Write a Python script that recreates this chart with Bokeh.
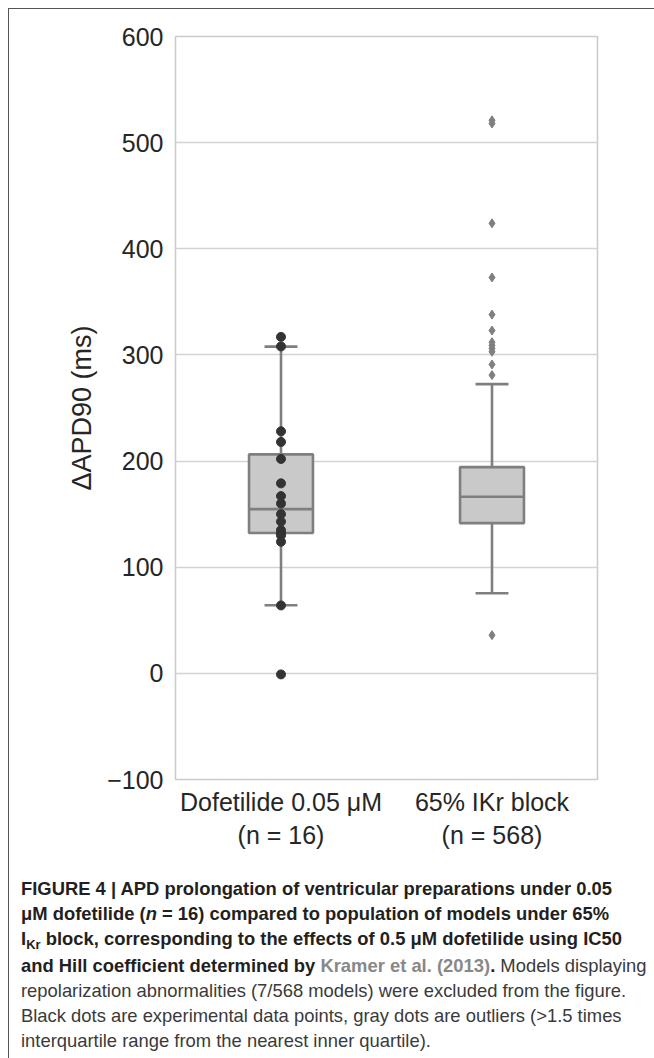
from bokeh.plotting import figure
from bokeh.models import FixedTicker, Div
from bokeh.layouts import column
from bokeh.embed import file_html
from bokeh.resources import INLINE

# ---------------- data ----------------
categories = ["Dofetilide 0.05 μM\n(n = 16)", "65% IKr block\n(n = 568)"]
q1 = [132.2, 141.5]
median = [154.7, 166.4]
q3 = [206.3, 194.3]
whisker_low = [64.1, 75.5]
whisker_high = [307.8, 272.5]
dofetilide_points = [317, 308, 228, 218, 202, 179, 167, 160, 150, 143, 135, 132, 130, 124, 64, -1]
ikr_outliers = [521, 518, 424, 373, 338, 323, 312, 309, 306, 303, 291, 281, 36]
y_ticks = [-100, 0, 100, 200, 300, 400, 500, 600]

# ---------------- layout / style ----------------
FONT = "Liberation Sans"
BOX_W = 0.303
CAP_W = 0.156
EDGE = "#7f7f7f"

xs = [i + 0.5 for i in range(len(categories))]

p = figure(width=644, height=850, x_range=(0, len(categories)), y_range=(-100, 600),
           output_backend="svg", toolbar_location=None,
           min_border_left=166, min_border_right=56, min_border_top=27, min_border_bottom=80)

p.background_fill_color = "white"
p.border_fill_color = "white"
p.outline_line_color = "#cccccc"
p.outline_line_width = 1.6

p.xgrid.visible = False
p.ygrid.ticker = FixedTicker(ticks=y_ticks)
p.ygrid.grid_line_color = "#d3d3d3"
p.ygrid.grid_line_width = 1.5

ya = p.yaxis[0]
ya.ticker = FixedTicker(ticks=y_ticks)
ya.major_label_overrides = {-100: "\u2212100"}
ya.axis_line_color = None
ya.major_tick_line_color = None
ya.minor_tick_line_color = None
ya.major_tick_out = 0
ya.major_tick_in = 0
ya.major_label_standoff = 12
ya.major_label_text_font = FONT
ya.major_label_text_font_size = "25px"
ya.major_label_text_color = "#262626"
ya.axis_label = "ΔAPD90 (ms)"
ya.axis_label_text_font = FONT
ya.axis_label_text_font_style = "normal"
ya.axis_label_text_font_size = "27px"
ya.axis_label_text_color = "#262626"
ya.axis_label_standoff = 7

xa = p.xaxis[0]
xa.ticker = FixedTicker(ticks=xs)
xa.major_label_overrides = {x: c for x, c in zip(xs, categories)}
xa.axis_line_color = None
xa.major_tick_line_color = None
xa.minor_tick_line_color = None
xa.major_tick_out = 0
xa.major_tick_in = 0
xa.major_label_standoff = 8
xa.major_label_text_font = FONT
xa.major_label_text_font_size = "25px"
xa.major_label_text_color = "#262626"
xa.major_label_text_align = "center"

# boxes
p.vbar(x=xs, width=BOX_W, bottom=q1, top=q3, fill_color="#c9c9c9",
       line_color=EDGE, line_width=2.6)
# whiskers
p.segment(x0=xs, y0=q3, x1=xs, y1=whisker_high, line_color=EDGE, line_width=2.6)
p.segment(x0=xs, y0=whisker_low, x1=xs, y1=q1, line_color=EDGE, line_width=2.6)
# caps
p.segment(x0=[x - CAP_W / 2 for x in xs], y0=whisker_high,
          x1=[x + CAP_W / 2 for x in xs], y1=whisker_high, line_color=EDGE, line_width=2.6)
p.segment(x0=[x - CAP_W / 2 for x in xs], y0=whisker_low,
          x1=[x + CAP_W / 2 for x in xs], y1=whisker_low, line_color=EDGE, line_width=2.6)
# medians
p.segment(x0=[x - BOX_W / 2 for x in xs], y0=median,
          x1=[x + BOX_W / 2 for x in xs], y1=median, line_color=EDGE, line_width=2.6)

# outliers (gray diamonds) and experimental points (black dots)
p.scatter(x=[xs[1]] * len(ikr_outliers), y=ikr_outliers, marker="diamond",
          size=9, color=EDGE)
p.scatter(x=[xs[0]] * len(dofetilide_points), y=dofetilide_points, marker="circle",
          size=9, color="#333333")

caption_html = (
    '<div style="font-family:\'Liberation Sans\',Arial,sans-serif;font-size:18.4px;'
    'line-height:25px;color:#231f20;white-space:nowrap;padding:12px 0 0 7px;">'
    '<b>FIGURE 4 | APD prolongation of ventricular preparations under 0.05</b><br>'
    '<b>\u03bcM dofetilide (<i>n</i> = 16) compared to population of models under 65%</b><br>'
    '<b>I<span style="font-size:13px;position:relative;top:4px;">Kr</span> block, corresponding to the effects of 0.5 \u03bcM dofetilide using IC50</b><br>'
    '<b>and Hill coefficient determined by <span style="color:#888888;">Kramer et al. (2013)</span>.</b>'
    '<span style="color:#3a3a3a;"> Models displaying</span><br>'
    '<span style="color:#3a3a3a;">repolarization abnormalities (7/568 models) were excluded from the figure.<br>'
    'Black dots are experimental data points, gray dots are outliers (&gt;1.5 times<br>'
    'interquartile range from the nearest inner quartile).</span>'
    '</div>'
)
caption = Div(text=caption_html, width=644, height=190)

layout = column(p, caption, margin=(8, 0, 0, 8),
                styles={"border-left": "1.5px solid #555555",
                        "border-top": "1.5px solid #555555"})

open("out.html", "w").write(file_html(layout, INLINE))
